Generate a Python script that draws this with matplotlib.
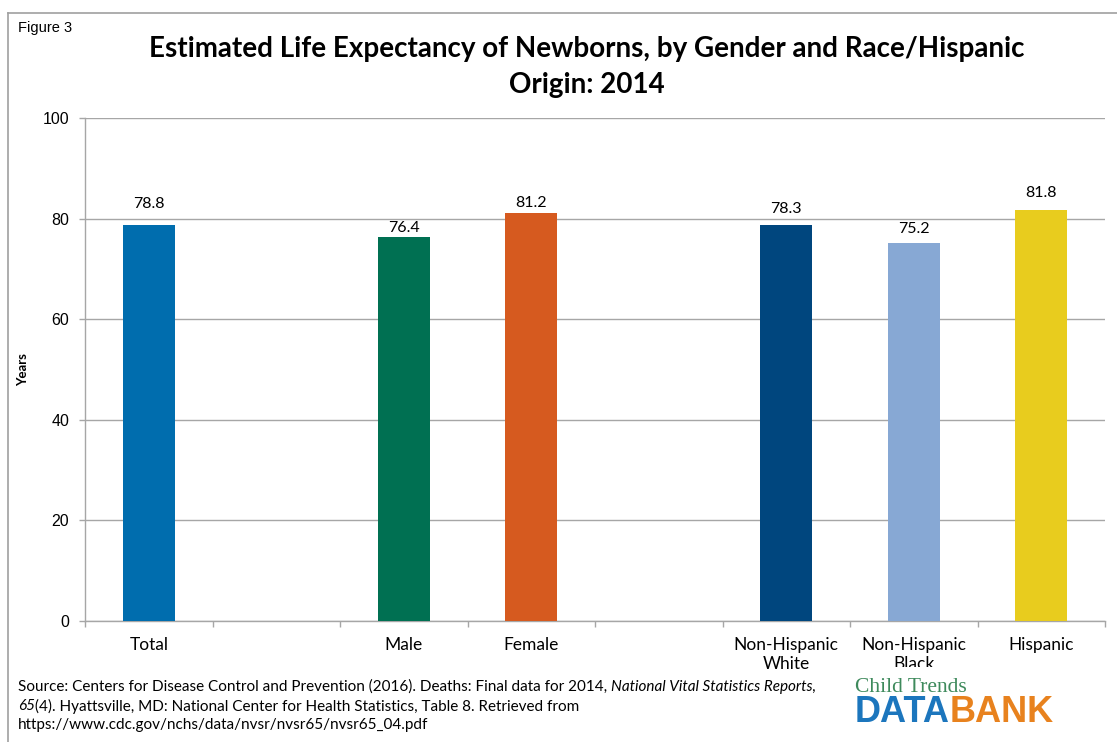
import matplotlib
matplotlib.use("Agg")
import matplotlib.pyplot as plt
from matplotlib.transforms import Bbox
from matplotlib.lines import Line2D
import numpy as np

# chart data (blank slots are spacer categories, as in the original sheet)
categories = ["Total", "", "Male", "Female", "", "Non-Hispanic\nWhite", "Non-Hispanic\nBlack", "Hispanic"]
years = [78.8, np.nan, 76.4, 81.2, np.nan, 78.8, 75.2, 81.8]
value_labels = ["78.8", "", "76.4", "81.2", "", "78.3", "75.2", "81.8"]
y_ticks = [0, 20, 40, 60, 80, 100]

# styles
bar_colors = ["#006DAE", "#FFFFFF", "#007052", "#D65A1F", "#FFFFFF", "#00467E", "#87A8D4", "#E8CC1E"]
label_lift_px = [21, 0, 8.5, 10, 0, 16, 14, 17]
GRID = "#A6A6A6"
BODY = "Lato"

W, H = 1117, 742
fig = plt.figure(figsize=(W / 100, H / 100), dpi=100)

# outer frame (only left and top edges visible in the crop)
fig.add_artist(Line2D([8 / W, 8 / W], [0, 1 - 13 / H], transform=fig.transFigure, color="#A0A0A0", lw=1.2))
fig.add_artist(Line2D([8 / W, 1], [1 - 13 / H, 1 - 13 / H], transform=fig.transFigure, color="#A0A0A0", lw=1.2))

ax = fig.add_axes([85 / W, 1 - 621 / H, (1105 - 85) / W, (621 - 118) / H])
x = np.arange(len(categories))
ax.bar(x, years, width=0.41, color=bar_colors, zorder=3)

for xi, val, txt, lift in zip(x, years, value_labels, label_lift_px):
    if not txt:
        continue
    ax.annotate(txt, (xi, val), xytext=(0, lift * 0.72), textcoords="offset points",
                ha="center", va="center", fontsize=11.5, family=BODY, zorder=4)

ax.set_xlim(-0.5, len(categories) - 0.5)
ax.set_ylim(0, 100)
ax.set_yticks(y_ticks)
ax.set_yticklabels([str(t) for t in y_ticks], family="Liberation Sans", fontsize=11.5)
ax.tick_params(axis="y", length=4.3, pad=7, color=GRID, width=1)
ax.yaxis.grid(True, color=GRID, lw=1, zorder=0)

ax.set_xticks([])
ax.set_xticks(list(x - 0.5) + [len(categories) - 0.5], minor=True)
ax.tick_params(axis="x", which="minor", length=4.3, color=GRID, width=1)

for s in ["top", "right"]:
    ax.spines[s].set_visible(False)
for s in ["left", "bottom"]:
    ax.spines[s].set_color(GRID)
    ax.spines[s].set_linewidth(1)

# category labels, the second line of the Black label is cut by the plot frame
for xi, cat in zip(x, categories):
    if not cat:
        continue
    t = ax.annotate(cat, (xi, 0), xycoords=("data", "axes fraction"), xytext=(0, -11.5),
                    textcoords="offset points", ha="center", va="top", fontsize=12.5,
                    family=BODY, linespacing=1.25, annotation_clip=False)
    if "Black" in cat:
        t.set_clip_on(True)
        t.set_clip_box(Bbox.from_extents(0, H - 667, W, H))

ax.set_ylabel("Years", fontsize=9.5, fontweight="bold", family=BODY)
ax.yaxis.set_label_coords(-56 / 1020, 0.5)

fig.text(18 / W, 1 - 28 / H, "Figure 3", fontsize=10.5, family="Liberation Sans", va="center")
fig.text(587 / W, 1 - 67 / H, "Estimated Life Expectancy of Newborns, by Gender and Race/Hispanic\nOrigin: 2014",
         ha="center", va="center", fontsize=20, fontweight="bold", family=BODY, linespacing=1.45)

# source note with italic pieces
renderer = fig.canvas.get_renderer()


def write_runs(x0, y0, runs, size=11):
    xp = x0
    for text, style in runs:
        t = fig.text(xp / W, 1 - y0 / H, text, fontsize=size, family=BODY, style=style, va="center")
        bb = t.get_window_extent(renderer)
        xp += bb.width
    return xp


write_runs(18, 687, [("Source: Centers for Disease Control and Prevention (2016). Deaths: Final data for 2014, ", "normal"),
                     ("National Vital Statistics Reports,", "italic")])
write_runs(18, 706, [("65", "italic"),
                     ("(4). Hyattsville, MD: National Center for Health Statistics, Table 8. Retrieved from", "normal")])
write_runs(18, 725, [("https://www.cdc.gov/nchs/data/nvsr/nvsr65/nvsr65_04.pdf", "normal")])

# Child Trends DataBank logo as text
fig.text(855 / W, 1 - 688 / H, "Child Trends", fontsize=15.5, family="Liberation Serif", color="#3E8A5C", va="center")
d = fig.text(855 / W, 1 - 712 / H, "DATA", fontsize=26, fontweight="bold", family="Liberation Sans",
             color="#1C76BD", va="center")
dw = d.get_window_extent(renderer).width
fig.text((855 + dw) / W, 1 - 712 / H, "BANK", fontsize=26, fontweight="bold", family="Liberation Sans",
         color="#E8821E", va="center")

fig.savefig("out.png", dpi=100)
